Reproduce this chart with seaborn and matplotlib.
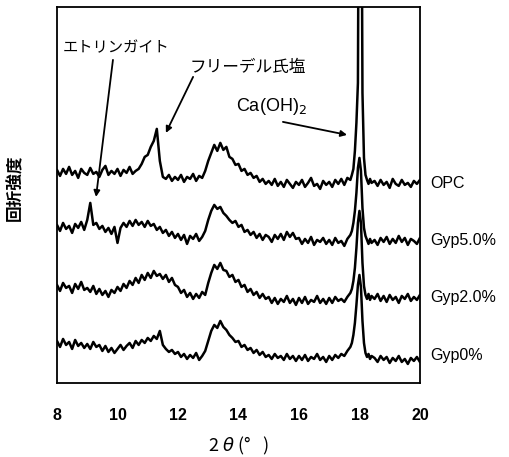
import numpy as np
import pandas as pd
import matplotlib
matplotlib.use("Agg")
import matplotlib.pyplot as plt
import seaborn as sns

# ---------------- data ----------------
two_theta = np.round(np.concatenate([
    np.arange(8.0, 17.71, 0.1),
    np.arange(17.75, 18.41, 0.05),
    np.arange(18.5, 20.01, 0.1),
]), 2)

samples = ["OPC", "Gyp5.0%", "Gyp2.0%", "Gyp0%"]

opc = [
    213, 207, 214, 209, 216, 208, 212, 205, 214, 210,
    208, 215, 209, 211, 206, 213, 217, 208, 212, 209,
    214, 207, 213, 210, 216, 209, 212, 214, 219, 226,
    228, 236, 242, 254, 222, 206, 204, 208, 202, 206,
    203, 208, 201, 206, 204, 209, 202, 207, 205, 212,
    222, 230, 238, 232, 240, 233, 236, 226, 224, 218,
    219, 212, 214, 208, 210, 205, 207, 201, 204, 199,
    202, 198, 204, 197, 201, 196, 203, 199, 195, 201,
    198, 203, 196, 200, 205, 197, 199, 194, 202, 198,
    201, 196, 203, 199, 204, 198, 205, 203,
    208, 214, 232, 260, 300, 700, 650, 290, 225, 208, 203, 199, 204, 200,
    202, 197, 203, 198, 201, 195, 204, 199, 197, 203, 198, 200, 196, 202, 199, 203,
]

gyp50 = [
    158, 152, 160, 154, 157, 150, 159, 155, 161, 153,
    163, 180, 158, 160, 154, 157, 151, 155, 149, 156,
    140, 155, 160, 156, 162, 157, 163, 158, 161, 156,
    162, 157, 159, 153, 156, 150, 153, 147, 151, 145,
    149, 143, 148, 139, 147, 144, 149, 142, 146, 152,
    163, 172, 178, 174, 176, 170, 167, 163, 160, 162,
    156, 158, 151, 153, 148, 151, 145, 149, 143, 148,
    146, 141, 148, 144, 149, 143, 151, 146, 150, 144,
    145, 139, 144, 140, 146, 138, 143, 141, 145, 139,
    143, 138, 145, 140, 142, 137, 144, 148,
    152, 160, 172, 190, 215, 225, 212, 175, 155, 147, 143, 139, 144, 140,
    143, 138, 145, 141, 146, 139, 144, 140, 147, 141, 145, 138, 144, 142, 139, 145,
]

gyp20 = [
    98, 92, 100, 95, 97, 90, 99, 94, 101, 93,
    95, 91, 97, 89, 94, 88, 92, 86, 93, 90,
    96, 92, 99, 95, 102, 98, 105, 100, 108, 103,
    110, 105, 112, 107, 109, 104, 108, 101, 105, 98,
    96, 90, 93, 86, 90, 84, 89, 85, 91, 88,
    100, 110, 118, 114, 120, 113, 112, 106, 108, 101,
    103, 96, 98, 91, 94, 88, 91, 85, 89, 84,
    86, 80, 85, 79, 84, 81, 87, 80, 84, 78,
    85, 80, 86, 79, 83, 81, 87, 80, 84, 79,
    85, 80, 86, 82, 84, 81, 86, 90,
    94, 102, 115, 135, 160, 172, 160, 120, 97, 88, 84, 89, 83, 87,
    84, 89, 82, 87, 81, 88, 83, 86, 80, 87, 84, 89, 82, 86, 83, 88,
]

gyp0 = [
    42, 36, 44, 38, 41, 34, 43, 37, 40, 35,
    39, 34, 41, 36, 38, 32, 37, 31, 35, 30,
    34, 38, 33, 37, 40, 35, 42, 38, 43, 40,
    45, 42, 47, 44, 52, 38, 34, 31, 33, 29,
    31, 26, 29, 24, 28, 25, 30, 23, 27, 32,
    42, 52, 58, 55, 62, 56, 53, 48, 45, 41,
    42, 36, 38, 33, 35, 30, 33, 28, 31, 26,
    28, 24, 29, 25, 27, 23, 29, 24, 27, 22,
    27, 23, 28, 22, 26, 24, 29, 23, 26, 21,
    27, 23, 28, 25, 29, 27, 32, 36,
    40, 48, 60, 78, 98, 108, 96, 62, 40, 30, 26, 29, 24, 27,
    25, 21, 27, 23, 26, 20, 25, 22, 27, 21, 24, 19, 25, 22, 26, 21,
]

x_ticks = [8, 10, 12, 14, 16, 18, 20]
x_ticklabels = ["8", "10", "12", "14", "16", "18", "20"]

series = {"OPC": opc, "Gyp5.0%": gyp50, "Gyp2.0%": gyp20, "Gyp0%": gyp0}
df = pd.concat(
    [pd.DataFrame({"two_theta": two_theta, "intensity": v, "sample": k})
     for k, v in series.items()],
    ignore_index=True,
)

# ---------------- plot ----------------
sns.set_style("white")
plt.rcParams["font.family"] = ["Liberation Sans", "Noto Sans CJK JP", "DejaVu Sans"]
plt.rcParams["text.color"] = "black"
plt.rcParams["axes.labelcolor"] = "black"
plt.rcParams["xtick.color"] = "black"

fig = plt.figure(figsize=(5.09, 4.57), dpi=100)
ax = fig.add_axes([0.112, 0.162, 0.713, 0.823])

sns.lineplot(data=df, x="two_theta", y="intensity", hue="sample",
             palette={s: "black" for s in samples}, legend=False,
             linewidth=1.8, ax=ax, estimator=None, sort=False)

ax.set_xlim(8, 20)
ax.set_ylim(0, 376)
ax.set_xticks(x_ticks)
ax.set_xticklabels(x_ticklabels, fontsize=11.5, fontweight="bold")
ax.set_yticks([])
ax.tick_params(axis="x", direction="in", length=5, width=1.2, pad=18, colors="black")
for sp in ax.spines.values():
    sp.set_color("black")
    sp.set_linewidth(1.3)

ax.set_xlabel(r"2 $\theta$ (°   )", fontsize=13, labelpad=9,
              family=["Noto Sans CJK JP", "DejaVu Sans"])
ax.set_ylabel("")
fig.text(0.029, 0.589, "回折強度", rotation=90, ha="center", va="center",
         fontsize=12, fontweight="bold", family=["Noto Sans CJK JP", "DejaVu Sans"])

# sample labels at the right end of each trace
label_shift = {"OPC": 0, "Gyp5.0%": 0, "Gyp2.0%": 0, "Gyp0%": 5}
for s in samples:
    yv = np.mean(series[s][-6:]) + label_shift[s]
    ax.text(20.35, yv, s, fontsize=11.5, ha="left", va="center", clip_on=False)

# peak annotations
jp = ["Noto Sans CJK JP", "DejaVu Sans"]
arrow_kw = dict(arrowstyle="-|>", color="black", lw=1.3,
                mutation_scale=9, shrinkA=0, shrinkB=0)
ax.text(9.95, 335, "エトリンガイト", fontsize=11, ha="center", va="center", family=jp)
ax.annotate("", xy=(9.29, 186), xytext=(9.85, 323), arrowprops=arrow_kw)
ax.text(14.31, 315, "フリーデル氏塩", fontsize=12, ha="center", va="center", family=jp)
ax.annotate("", xy=(11.6, 250), xytext=(12.5, 306), arrowprops=arrow_kw)
ax.text(15.1, 276, "Ca(OH)$_2$", fontsize=13, ha="center", va="center")
ax.annotate("", xy=(17.59, 248), xytext=(15.47, 261), arrowprops=arrow_kw)

fig.savefig("out.png", dpi=100)
